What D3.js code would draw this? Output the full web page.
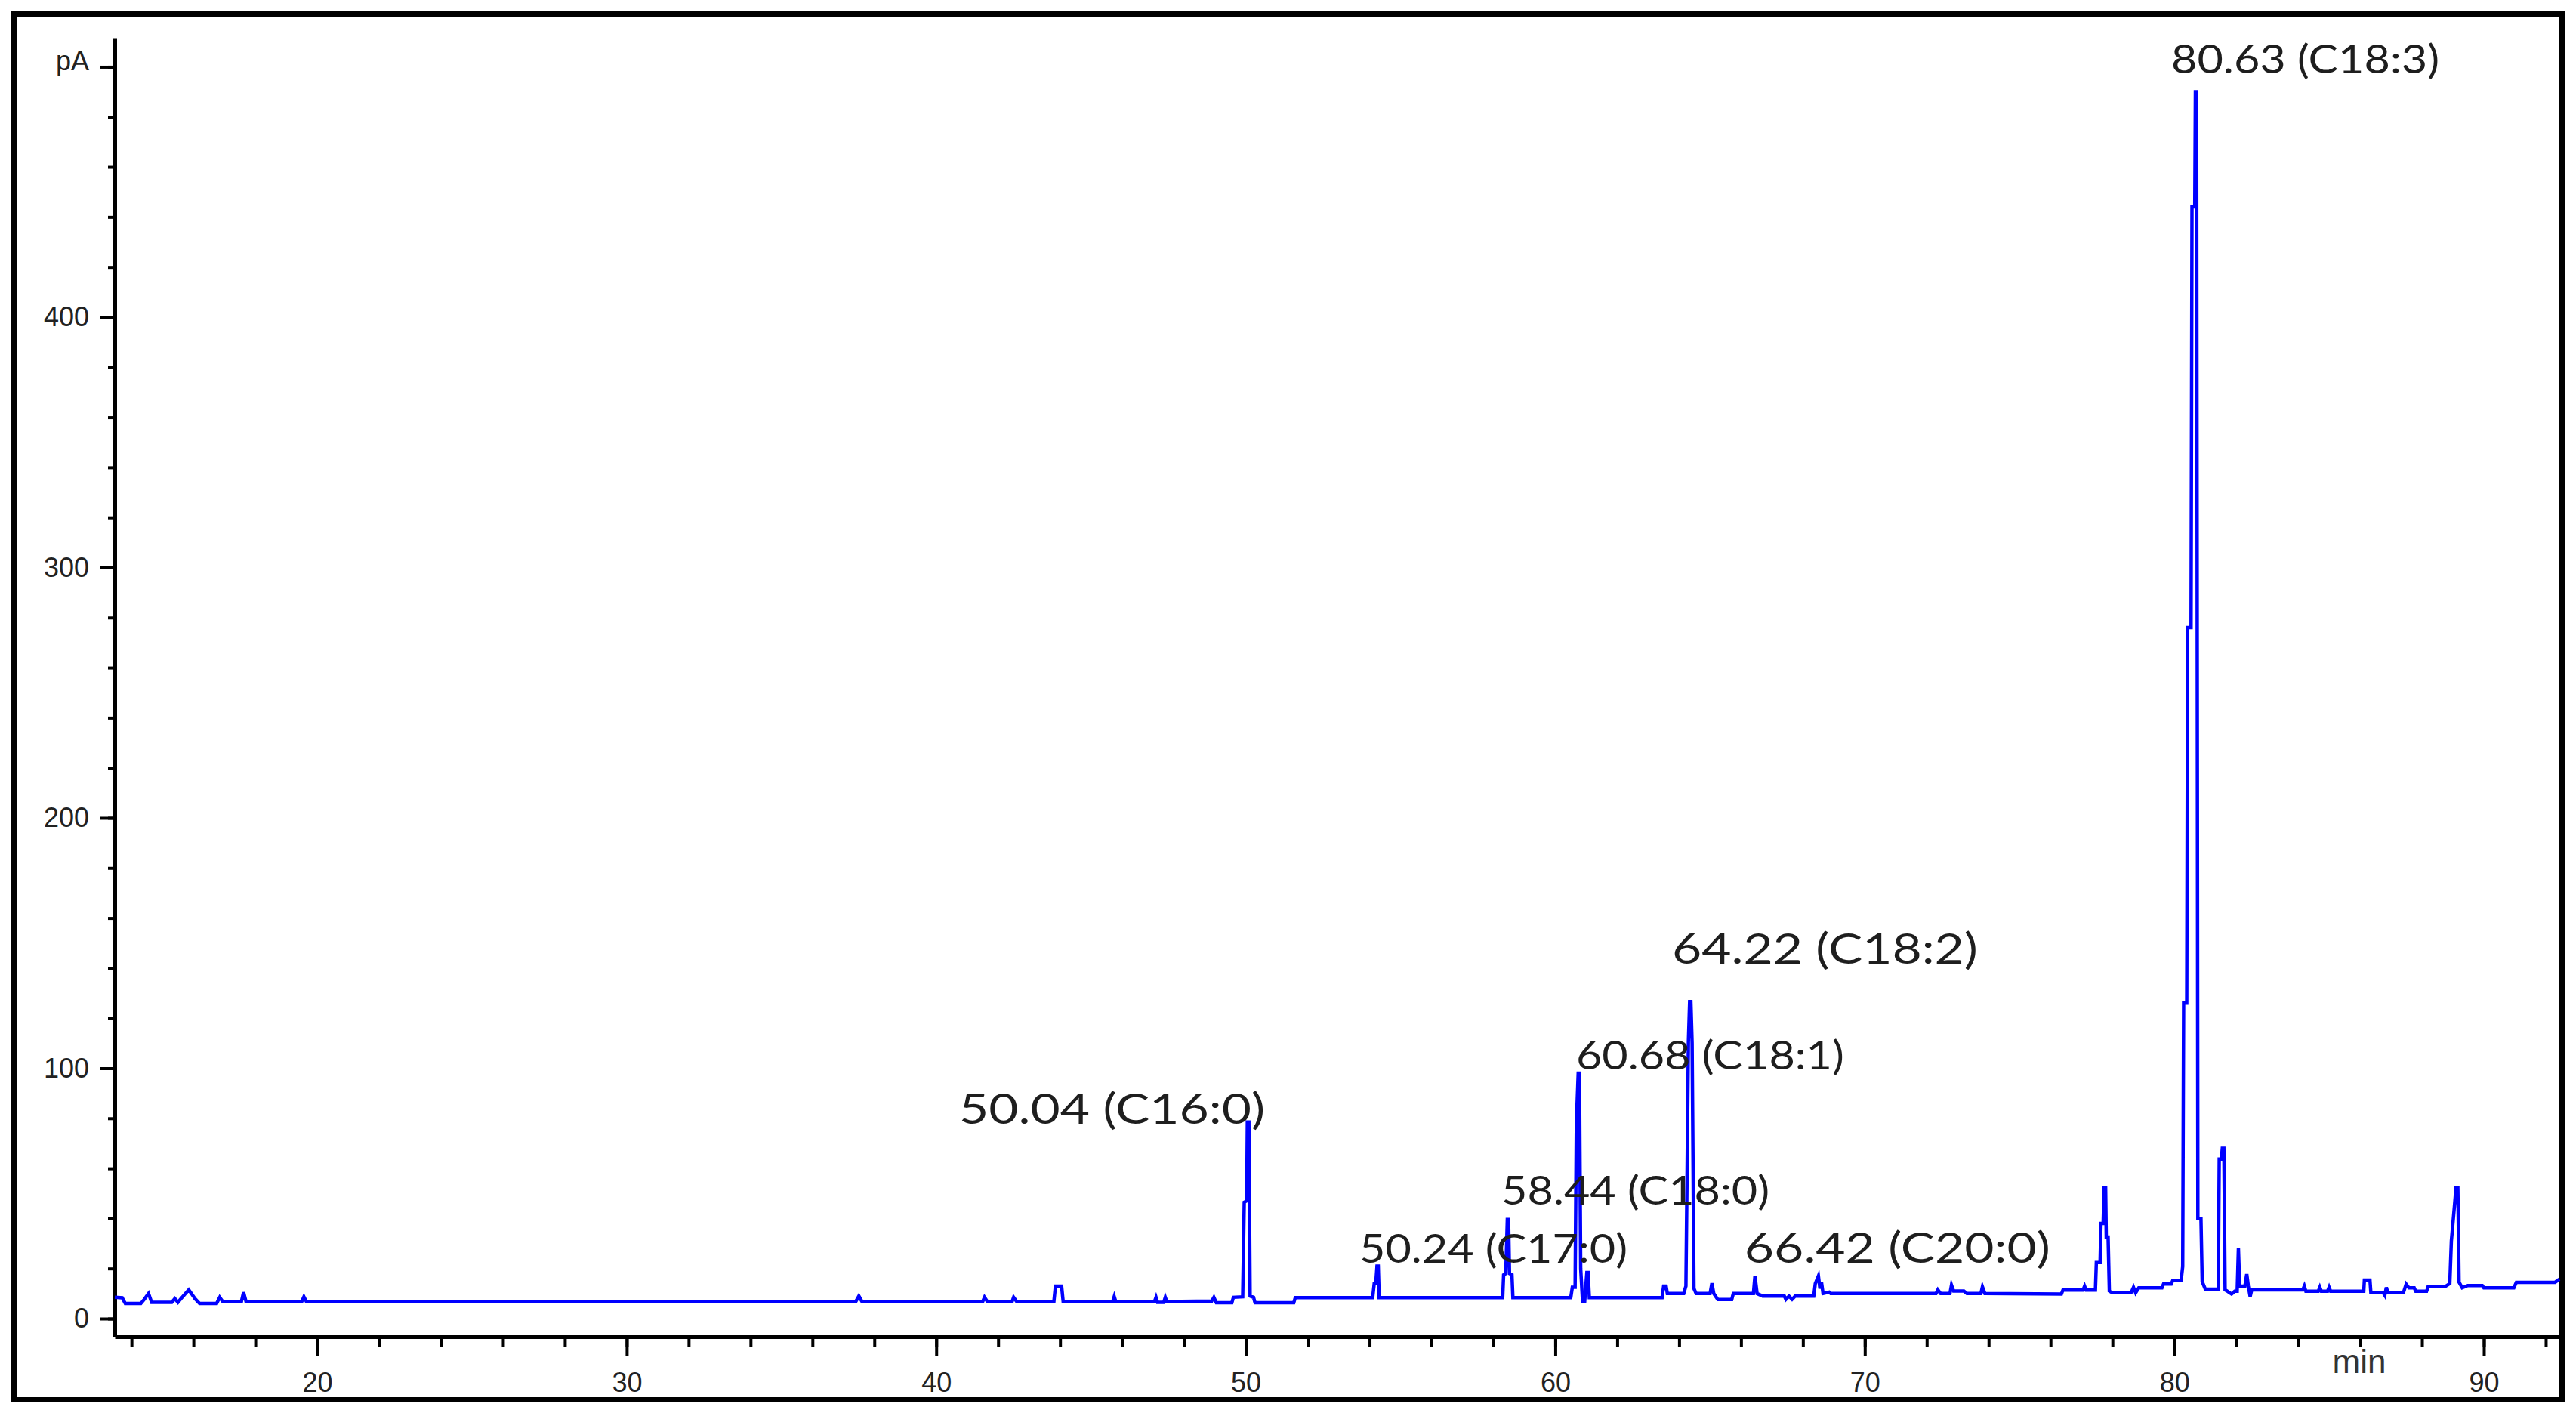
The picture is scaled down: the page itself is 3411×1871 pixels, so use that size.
<!DOCTYPE html>
<html>
<head>
<meta charset="utf-8">
<script src="https://cdn.jsdelivr.net/npm/d3@7"></script>
<style>
  html, body { margin: 0; padding: 0; background: #fff; }
  svg { display: block; }
</style>
</head>
<body>
<div id="chart"></div>
<script>
// GC-FID trace: retention time (min) and detector signal (pA)
const times = [
  13.46, 13.7, 13.8, 14.3, 14.4, 14.55, 14.65, 15.3, 15.4, 15.5, 15.6, 15.85, 16.05, 16.2, 16.75, 16.85, 16.95,
  17.55, 17.62, 17.7, 19.5, 19.57, 19.65, 37.4, 37.5, 37.6, 41.5, 41.56, 41.65, 42.45, 42.5, 42.6,
  43.8, 43.85, 44.05, 44.1, 45.7, 45.75, 45.8, 47.05, 47.1, 47.15, 47.35, 47.4, 47.45,
  48.9, 48.97, 49.05, 49.55, 49.6, 49.9, 49.95, 50.03, 50.05, 50.1, 50.14, 50.25, 50.3, 51.55, 51.6,
  54.1, 54.15, 54.2, 54.24, 54.28, 54.31,
  58.3, 58.33, 58.4, 58.45, 58.49, 58.52, 58.6, 58.63,
  60.5, 60.55, 60.64, 60.68, 60.74, 60.78, 60.82, 60.88, 60.95, 61.02, 61.06, 61.1,
  63.45, 63.5, 63.58, 63.62, 64.15, 64.22, 64.3, 64.34, 64.38, 64.42, 64.48, 64.55,
  65.0, 65.06, 65.12, 65.25, 65.7, 65.75, 66.4, 66.45, 66.52, 66.7, 67.4, 67.45, 67.55, 67.65, 67.75,
  68.35, 68.4, 68.5, 68.55, 68.6, 68.65, 68.85, 68.9, 72.3, 72.36, 72.45, 72.75, 72.8, 72.87, 73.2, 73.3,
  73.75, 73.8, 73.88, 76.35, 76.4, 77.05, 77.1, 77.15, 77.45, 77.48, 77.6, 77.63, 77.7, 77.73, 77.78,
  77.8, 77.86, 77.9, 78.0, 78.6, 78.68, 78.75, 78.85, 79.6, 79.65, 79.9, 79.95, 80.22, 80.27,
  80.3, 80.4, 80.43, 80.54, 80.57, 80.66, 80.68, 80.72, 80.76, 80.86, 80.9, 81.0,
  81.42, 81.45, 81.52, 81.55, 81.6, 81.64, 81.72, 81.85, 81.95, 82.03, 82.07, 82.11, 82.28, 82.34, 82.39,
  82.45, 82.5, 84.15, 84.2, 84.25, 84.65, 84.7, 84.75, 84.95, 85.0, 85.05, 86.12, 86.14, 86.32, 86.35,
  86.75, 86.8, 86.85, 86.9, 87.4, 87.49, 87.58, 87.75, 87.8, 88.15, 88.2, 88.75, 88.9, 88.95, 89.05,
  89.1, 89.16, 89.2, 89.3, 89.48, 89.95, 90.0, 90.97, 91.05, 92.3, 92.44
]
const signal = [
  8.5, 8.3, 6, 6, 7.5, 10, 6.5, 6.5, 8, 6.5, 8, 11.5, 8, 6, 6, 8.5, 6.8,
  6.8, 10.5, 6.8, 6.8, 8.7, 6.8, 6.8, 9, 6.8, 6.8, 8.5, 6.8, 6.8, 8.5, 6.8,
  6.8, 13, 13, 6.8, 6.8, 8.8, 6.8, 6.8, 8.5, 6.5, 6.5, 8.5, 6.8,
  7, 8.5, 6.3, 6.3, 8.5, 8.7, 46.5, 47, 78.5, 78.5, 9, 8.5, 6.3, 6.3, 8.4,
  8.4, 14, 14, 21, 21, 8.4,
  8.4, 17.5, 18, 39.6, 39.6, 18, 17.5, 8.4,
  8.4, 12.5, 12.5, 78, 98, 98, 20, 7, 7, 18.4, 18.4, 8.4,
  8.4, 13, 13, 10, 10, 13, 110.6, 126.6, 126.6, 110, 12, 10,
  10, 14.1, 10, 7.6, 7.6, 10, 10, 17, 10, 9, 9, 7.7, 9, 7.7, 9,
  9, 14, 17, 12, 14.5, 10, 10.6, 10, 10, 11.5, 10, 10, 13.4, 11, 11, 10,
  10, 12.7, 10, 9.8, 11.4, 11.4, 13, 11.4, 11.4, 22.4, 22.4, 38, 38, 52.2, 52.2,
  32.6, 32.6, 11, 10.3, 10.3, 12.5, 10.3, 12.3, 12.3, 13.8, 13.8, 15.3, 15.3, 20.8,
  126, 126, 276, 276, 444, 444, 490, 490, 40, 40, 14.8, 11.8,
  11.8, 63.7, 63.7, 68, 68, 11.5, 10.9, 9.8, 10.9, 10.9, 28, 13, 13, 17.8, 13,
  8.8, 11.5, 11.5, 13, 10.9, 10.9, 12.5, 10.9, 10.9, 12.5, 10.9, 10.9, 15.4, 15.4, 10.3,
  10.3, 9.3, 12.5, 10.3, 10.3, 13.8, 12.3, 12.3, 10.9, 10.9, 12.8, 12.8, 14, 31, 45,
  52.2, 52.2, 14.5, 12.3, 13.2, 13.2, 12.3, 12.3, 14.5, 14.5, 15.7
]

const xMajorTicks = [20, 30, 40, 50, 60, 70, 80, 90]
const xMinorTicks = d3.range(14, 93, 2)
const yMajorTicks = [0, 100, 200, 300, 400, 500]
const yTickLabels = ["0", "100", "200", "300", "400", "pA"]
const yMinorTicks = d3.range(0, 501, 20)

// peak annotations: text, left edge (min) and baseline (pA) where the text sits
const peakLabels = ["80.63 (C18:3)", "64.22 (C18:2)", "60.68 (C18:1)", "50.04 (C16:0)", "58.44 (C18:0)", "50.24 (C17:0)", "66.42 (C20:0)"]
const labelTimes = [79.9, 63.77, 60.67, 40.74, 58.26, 53.67, 66.11]
const labelLevels = [497.3, 141.8, 99.5, 77.8, 45.6, 22.3, 22.3]
const labelBig = [false, true, false, true, false, false, true]

const width = 3411,
    height = 1871;

const x = d3.scaleLinear().domain([13.46, 92.44]).range([152, 3389])
const y = d3.scaleLinear().domain([-7.24, 511.6]).range([1770, 50])

const svg = d3.select("#chart")
  .append("svg")
    .attr("width", width)
    .attr("height", height)

svg.append("rect")
    .attr("width", width)
    .attr("height", height)
    .attr("fill", "#fff")

// outer frame
svg.append("rect")
    .attr("x", 18.5)
    .attr("y", 18.5)
    .attr("width", 3374)
    .attr("height", 1835)
    .attr("fill", "none")
    .attr("stroke", "#000")
    .attr("stroke-width", 7)

const axisFont = g => g.selectAll("text")
    .attr("font-family", "'Liberation Sans', Arial, sans-serif")
    .attr("font-size", 36)
    .attr("fill", "#222")

// x axis: minor then major ticks
svg.append("g")
    .attr("transform", `translate(0,${y.range()[0]})`)
    .call(d3.axisBottom(x).tickValues(xMinorTicks).tickSize(14).tickSizeOuter(0).tickFormat(""))
    .call(g => g.select(".domain").attr("stroke-width", 5))
    .call(g => g.selectAll(".tick line").attr("stroke-width", 4))

svg.append("g")
    .attr("transform", `translate(0,${y.range()[0]})`)
    .call(d3.axisBottom(x).tickValues(xMajorTicks).tickSize(26).tickPadding(21).tickSizeOuter(0))
    .call(g => g.select(".domain").remove())
    .call(g => g.selectAll(".tick line").attr("stroke-width", 4))
    .call(axisFont)

// y axis
svg.append("g")
    .attr("transform", `translate(${x.range()[0]},0)`)
    .call(d3.axisLeft(y).tickValues(yMinorTicks).tickSize(9).tickSizeOuter(0).tickFormat(""))
    .call(g => g.select(".domain").attr("stroke-width", 5))
    .call(g => g.selectAll(".tick line").attr("stroke-width", 4))

svg.append("g")
    .attr("transform", `translate(${x.range()[0]},0)`)
    .call(d3.axisLeft(y).tickValues(yMajorTicks).tickSize(19).tickPadding(15).tickSizeOuter(0)
      .tickFormat((d, i) => yTickLabels[i]))
    .call(g => g.select(".domain").remove())
    .call(g => g.selectAll(".tick line").attr("stroke-width", 4))
    .call(axisFont)
    .call(g => g.selectAll(".tick text").filter(d => d === 500).attr("dy", "0.1em"))

// axis unit
svg.append("text")
    .attr("x", 3124)
    .attr("y", 1818)
    .attr("text-anchor", "middle")
    .attr("font-family", "'Liberation Sans', Arial, sans-serif")
    .attr("font-size", 44)
    .attr("fill", "#333")
    .text("min")

// the trace
const line = d3.line()
    .x((d, i) => x(times[i]))
    .y(d => y(d))

svg.append("path")
    .datum(signal)
    .attr("d", line)
    .attr("fill", "none")
    .attr("stroke", "#0000ff")
    .attr("stroke-width", 4.5)
    .attr("stroke-linejoin", "miter")

// peak labels
svg.selectAll(".peak-label")
  .data(peakLabels)
  .join("text")
    .attr("class", "peak-label")
    .attr("x", (d, i) => x(labelTimes[i]))
    .attr("y", (d, i) => y(labelLevels[i]))
    .attr("font-family", "Lato, 'Open Sans', sans-serif")
    .attr("font-size", (d, i) => labelBig[i] ? 56 : 52)
    .attr("textLength", (d, i) => labelBig[i] ? 405 : 355)
    .attr("lengthAdjust", "spacingAndGlyphs")
    .attr("fill", "#1e1e1e")
    .text(d => d)
</script>
</body>
</html>
